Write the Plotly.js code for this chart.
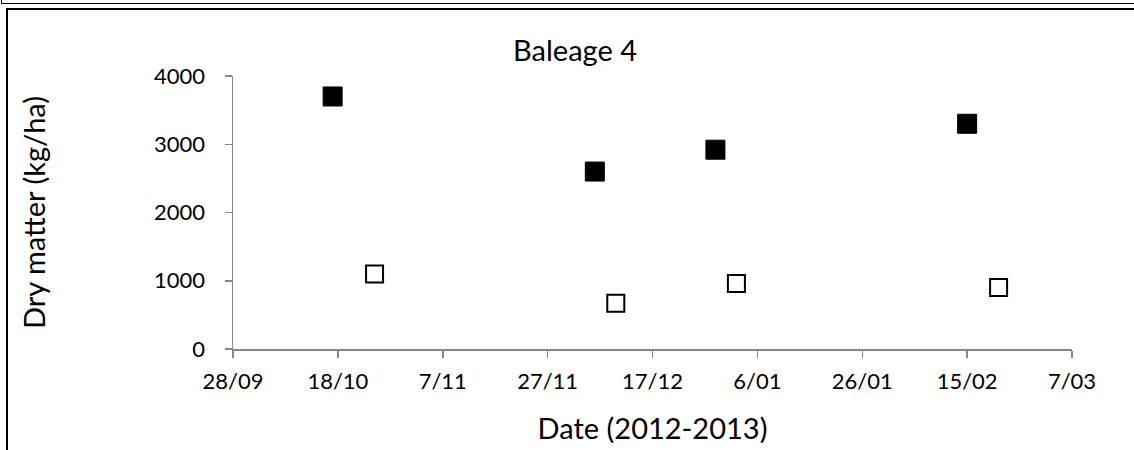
<!DOCTYPE html>
<html>
<head>
<meta charset="utf-8">
<script src="https://cdn.plot.ly/plotly-3.0.1.min.js"></script>
<style>
  html, body { margin: 0; padding: 0; background: #ffffff; overflow: hidden; }
  #wrap { position: relative; width: 1134px; height: 450px; }
  #chart { position: absolute; left: 0; top: 0; width: 1134px; height: 450px; }
  .frame { position: absolute; border: 2px solid #000; background: transparent; pointer-events: none; box-sizing: border-box; }
</style>
</head>
<body>
<div id="wrap">
  <div id="chart"></div>
  <div class="frame" style="left:1px; top:-12px; width:1150px; height:16px; border-width:1.5px;"></div>
  <div class="frame" style="left:6px; top:8px; width:1150px; height:470px;"></div>
</div>
<script>
// Data
const chartTitle = "Baleage 4";
const xTitle = "Date (2012-2013)";
const yTitle = "Dry matter (kg/ha)";

const filledDates = ["2012-10-17", "2012-12-06", "2012-12-29", "2013-02-15"];
const filledValues = [3700, 2600, 2920, 3300];

const openDates = ["2012-10-25", "2012-12-10", "2013-01-02", "2013-02-21"];
const openValues = [1100, 670, 960, 900];

const xTickDates = ["2012-09-28", "2012-10-18", "2012-11-07", "2012-11-27", "2012-12-17",
                    "2013-01-06", "2013-01-26", "2013-02-15", "2013-03-07"];
const xTickLabels = ["28/09", "18/10", "7/11", "27/11", "17/12", "6/01", "26/01", "15/02", "7/03"];
const yTickValues = [0, 1000, 2000, 3000, 4000];
const yTickLabels = ["0", "1000", "2000", "3000", "4000"];

const FONT = "Lato, 'Open Sans', sans-serif";
const AXIS_COLOR = "#868686";

const traces = [
  {
    type: "scatter", mode: "markers", x: filledDates, y: filledValues, name: "filled",
    marker: { symbol: "square", size: 19, color: "#000000", line: { color: "#000000", width: 1 } },
    hoverinfo: "x+y"
  },
  {
    type: "scatter", mode: "markers", x: openDates, y: openValues, name: "open",
    marker: { symbol: "square", size: 17, color: "#ffffff", line: { color: "#000000", width: 2 } },
    hoverinfo: "x+y"
  }
];

const layout = {
  width: 1134, height: 450,
  margin: { l: 233, r: 62, t: 76, b: 101, pad: 0 },
  paper_bgcolor: "#ffffff", plot_bgcolor: "#ffffff",
  showlegend: false,
  font: { family: FONT, color: "#000000" },
  title: {
    text: chartTitle, font: { family: FONT, size: 29, color: "#000" },
    xref: "container", x: 575 / 1134, xanchor: "center",
    yref: "container", y: 1 - 51 / 450, yanchor: "middle"
  },
  xaxis: {
    type: "date",
    range: [xTickDates[0], xTickDates[xTickDates.length - 1]],
    tickmode: "array", tickvals: xTickDates, ticktext: xTickLabels,
    ticks: "outside", ticklen: 7, tickwidth: 1.5, tickcolor: AXIS_COLOR,
    ticklabelstandoff: 5,
    showline: true, linecolor: AXIS_COLOR, linewidth: 1.5,
    showgrid: false, zeroline: false,
    tickfont: { family: FONT, size: 22, color: "#000" },
    title: { text: xTitle, font: { family: FONT, size: 29, color: "#000" }, standoff: 26 },
    automargin: false, fixedrange: true
  },
  yaxis: {
    range: [0, 4000],
    tickmode: "array", tickvals: yTickValues, ticktext: yTickLabels,
    ticks: "outside", ticklen: 7, tickwidth: 1.5, tickcolor: AXIS_COLOR,
    ticklabelstandoff: 15,
    showline: true, linecolor: AXIS_COLOR, linewidth: 1.5,
    showgrid: false, zeroline: false,
    tickfont: { family: FONT, size: 22, color: "#000" },
    title: { text: yTitle, font: { family: FONT, size: 29, color: "#000" }, standoff: 100 },
    automargin: false, fixedrange: true
  }
};

Plotly.newPlot("chart", traces, layout, { displayModeBar: false, staticPlot: true });
</script>
</body>
</html>
